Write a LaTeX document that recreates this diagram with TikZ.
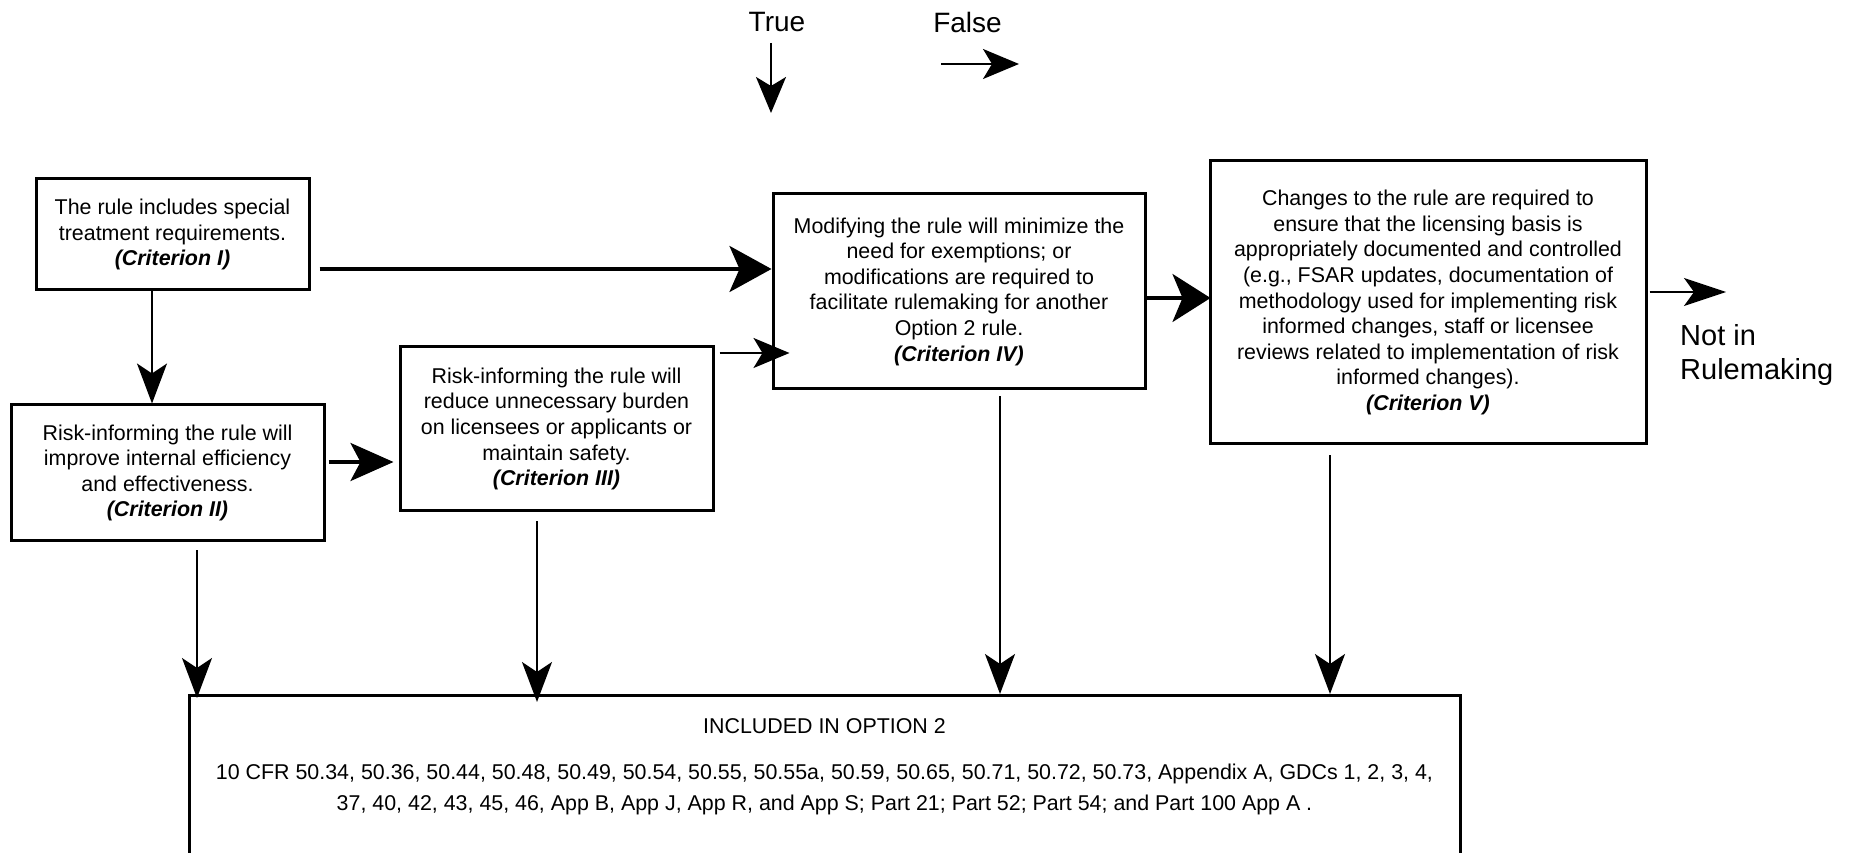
\documentclass[tikz,border=0pt]{standalone}
\usepackage{fontspec}
\setmainfont{Liberation Sans}
\usetikzlibrary{arrows.meta, positioning}
\newcommand{\critlabel}[1]{\textbf{\textit{(Criterion #1)}}}
\tikzset{
  box/.style      = {draw, line width=3pt, inner sep=0pt, align=center,
                     font=\fontsize{21.4}{25.6}\selectfont},
  bigtext/.style  = {inner sep=0pt, font=\fontsize{28}{33}\selectfont},
  arrow/.style    = {-{Stealth[length=40pt, width=30pt, inset=10pt]}, line width=2pt},
  sarrow/.style   = {-{Stealth[length=36pt, width=30pt, inset=9pt]}, line width=2pt},
  bigarrow/.style = {-{Stealth[length=42pt, width=46pt, inset=10pt]}, line width=3.5pt},
}
\begin{document}
\begin{tikzpicture}[x=1pt, y=1pt]
  \useasboundingbox (0,0) rectangle (1855,852);
  \clip (0,0) rectangle (1855,852);
  % legend
  \node[bigtext] (true) at (777,830) {True};
  \node[bigtext] (false) at (967.5,830) {False};
  \coordinate (t1) at (771,809);
  \coordinate (t2) at (771,739);
  \coordinate (f1) at (941,788);
  \coordinate (f2) at (1019,788);
  \draw[sarrow] (t1) -- (t2);
  \draw[sarrow] (f1) -- (f2);
  % criteria
  \node[box, minimum width=273pt, minimum height=111pt] (crit1) at (172.5,617.5)
    {The rule includes special\\treatment requirements.\\\critlabel{I}};
  \node[box, minimum width=313pt, minimum height=136pt] (crit2) at (167.5,379)
    {Risk-informing the rule will\\improve internal efficiency\\and effectiveness.\\\critlabel{II}};
  \node[box, minimum width=313pt, minimum height=164pt] (crit3) at (556.5,423)
    {Risk-informing the rule will\\reduce unnecessary burden\\on licensees or applicants or\\maintain safety.\\\critlabel{III}};
  \node[box, minimum width=372pt, minimum height=195pt] (crit4) at (959,560.5)
    {Modifying the rule will minimize the\\need for exemptions; or\\modifications are required to\\facilitate rulemaking for another\\Option 2 rule.\\\critlabel{IV}};
  \node[box, minimum width=436pt, minimum height=283pt] (crit5) at (1428,549.5)
    {Changes to the rule are required to\\ensure that the licensing basis is\\appropriately documented and controlled\\(e.g., FSAR updates, documentation of\\methodology used for implementing risk\\informed changes, staff or licensee\\reviews related to implementation of risk\\informed changes).\\\critlabel{V}};
  \node[bigtext, font=\fontsize{29}{33.5}\selectfont, align=left, anchor=north west]
    (notrm) at (1680,527.5) {Not in\\Rulemaking};
  \coordinate (notend) at (1726,560);
  % result
  \node[draw, line width=3pt, anchor=north, minimum width=1271pt, minimum height=200pt]
    (opt2) at (824.5,158) {};
  \node[below=24pt of opt2.north, inner sep=0pt, align=center,
        font=\fontsize{21.4}{31}\selectfont] (opt2txt)
    {INCLUDED IN OPTION 2\\[15pt]
     10 CFR 50.34, 50.36, 50.44, 50.48, 50.49, 50.54, 50.55, 50.55a, 50.59, 50.65, 50.71, 50.72, 50.73, Appendix A, GDCs 1, 2, 3, 4,\\
     37, 40, 42, 43, 45, 46, App B, App J, App R, and App S; Part 21; Part 52; Part 54; and Part 100 App A .};
  % false paths
  \draw[bigarrow] ([xshift=9pt, yshift=-34.5pt]crit1.east) -- ([yshift=-34.5pt]crit1.east -| crit4.west);
  \draw[bigarrow, -{Stealth[length=43pt, width=38pt, inset=10pt]}]
    ([xshift=3pt, yshift=11pt]crit2.east) -- ([xshift=-5pt, yshift=11pt]crit2.east -| crit3.west);
  \draw[sarrow] ([xshift=5pt, yshift=76pt]crit3.east) -- ([xshift=18pt, yshift=76pt]crit3.east -| crit4.west);
  \draw[bigarrow, -{Stealth[length=38pt, width=48pt, inset=10pt]}]
    ([yshift=-6.5pt]crit4.east) -- ([xshift=2pt, yshift=-6.5pt]crit4.east -| crit5.west);
  \draw[arrow, -{Stealth[length=42pt, width=28pt, inset=10pt]}]
    ([xshift=2pt, yshift=10.5pt]crit5.east) -- (notend);
  % true paths
  \draw[arrow] ([xshift=-20.5pt]crit1.south) -- ([xshift=-20.5pt]crit1.south |- crit2.north);
  \draw[arrow] ([xshift=29.5pt, yshift=-8pt]crit2.south) -- ([xshift=29.5pt, yshift=-4pt]crit2.south |- opt2.north);
  \draw[arrow] ([xshift=-19.5pt, yshift=-9pt]crit3.south) -- ([xshift=-19.5pt, yshift=-8pt]crit3.south |- opt2.north);
  \draw[arrow] ([xshift=41pt, yshift=-6pt]crit4.south) -- ([xshift=41pt]crit4.south |- opt2.north);
  \draw[arrow] ([xshift=-98pt, yshift=-10pt]crit5.south) -- ([xshift=-98pt]crit5.south |- opt2.north);
\end{tikzpicture}
\end{document}
